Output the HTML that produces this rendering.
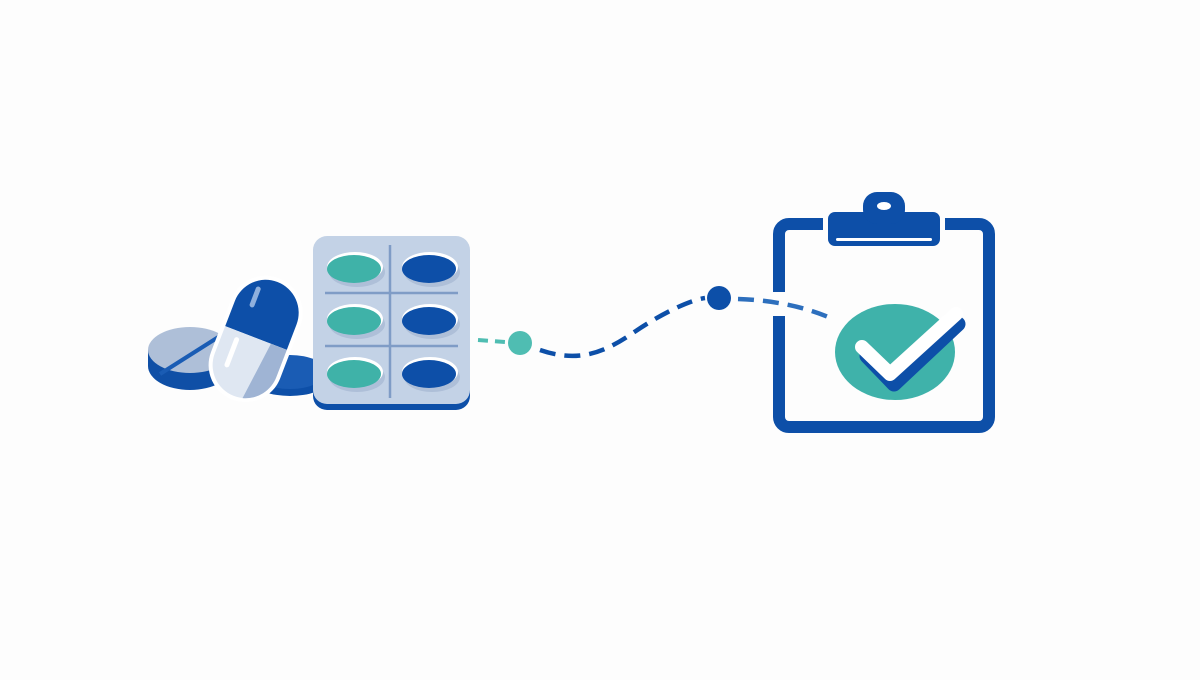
<!DOCTYPE html>
<html><head><style>body{margin:0;background:#fdfdfd}</style></head><body>
<svg width="1200" height="675" viewBox="0 0 1200 675" xmlns="http://www.w3.org/2000/svg">
<rect width="1200" height="675" fill="#fdfdfd"/>
<!-- back blue pill -->
<ellipse cx="290" cy="382" rx="36" ry="14" fill="#0d4fa8"/>
<ellipse cx="290" cy="372" rx="36" ry="17" fill="#1a5cb4"/>
<!-- tablet -->
<ellipse cx="190" cy="366" rx="42" ry="24" fill="#0f4fa6"/>
<rect x="148" y="350" width="84" height="16" fill="#0f4fa6"/>
<ellipse cx="190" cy="350" rx="42" ry="23" fill="#aebfd8"/>
<line x1="160" y1="374" x2="220" y2="336" stroke="#1a5cb4" stroke-width="4"/>
<!-- capsule -->
<g transform="rotate(21 256 338)">
<rect x="219" y="274" width="74" height="130" rx="37" fill="#fff"/>
<path d="M223 338 V311 a33 33 0 0 1 66 0 V338 Z" fill="#0d4fa8"/>
<path d="M223 338 H289 V367 a33 33 0 0 1 -66 0 Z" fill="#dfe7f2"/>
<path d="M272 338 H289 V367 a33 33 0 0 1 -24 32 Z" fill="#9fb4d4"/>
<rect x="238" y="289" width="5" height="22" rx="2.5" fill="#8fb0dd"/>
<rect x="236" y="344" width="5" height="32" rx="2.5" fill="#fff"/>
</g>
<!-- blister -->
<rect x="313" y="240" width="157" height="170" rx="14" fill="#0d4fa8"/>
<rect x="313" y="236" width="157" height="168" rx="14" fill="#c3d2e6"/>
<line x1="390" y1="245" x2="390" y2="398" stroke="#7f9cc6" stroke-width="2.5"/>
<line x1="325" y1="293" x2="458" y2="293" stroke="#7f9cc6" stroke-width="2.5"/>
<line x1="325" y1="346" x2="458" y2="346" stroke="#7f9cc6" stroke-width="2.5"/>
<g>
<ellipse cx="357" cy="272" rx="28" ry="15" fill="#aebfd8"/>
<ellipse cx="355" cy="267" rx="28" ry="15" fill="#fff"/>
<ellipse cx="354" cy="269" rx="27" ry="14" fill="#3fb2a8"/>
<ellipse cx="432" cy="272" rx="28" ry="15" fill="#aebfd8"/>
<ellipse cx="430" cy="267" rx="28" ry="15" fill="#fff"/>
<ellipse cx="429" cy="269" rx="27" ry="14" fill="#0d4fa8"/>
<ellipse cx="357" cy="324" rx="28" ry="15" fill="#aebfd8"/>
<ellipse cx="355" cy="319" rx="28" ry="15" fill="#fff"/>
<ellipse cx="354" cy="321" rx="27" ry="14" fill="#3fb2a8"/>
<ellipse cx="432" cy="324" rx="28" ry="15" fill="#aebfd8"/>
<ellipse cx="430" cy="319" rx="28" ry="15" fill="#fff"/>
<ellipse cx="429" cy="321" rx="27" ry="14" fill="#0d4fa8"/>
<ellipse cx="357" cy="377" rx="28" ry="15" fill="#aebfd8"/>
<ellipse cx="355" cy="372" rx="28" ry="15" fill="#fff"/>
<ellipse cx="354" cy="374" rx="27" ry="14" fill="#3fb2a8"/>
<ellipse cx="432" cy="377" rx="28" ry="15" fill="#aebfd8"/>
<ellipse cx="430" cy="372" rx="28" ry="15" fill="#fff"/>
<ellipse cx="429" cy="374" rx="27" ry="14" fill="#0d4fa8"/>
</g>
<!-- connector -->
<path d="M478 340 L505 342" stroke="#4fbdb2" stroke-width="4" stroke-dasharray="10 7" fill="none"/>
<circle cx="520" cy="343" r="12" fill="#4fbdb2"/>
<path d="M540 350 C575 362 600 355 630 335 C660 314 690 300 705 298" stroke="#0d4fa8" stroke-width="4.5" stroke-dasharray="16 9" fill="none"/>
<circle cx="719" cy="298" r="12" fill="#0d4fa8"/>
<!-- clipboard -->
<rect x="779" y="224" width="210" height="203" rx="10" fill="none" stroke="#0d4fa8" stroke-width="12"/>
<rect x="770" y="292" width="16" height="24" fill="#fdfdfd"/>
<path d="M738 299 C770 300 805 306 835 320" stroke="#2d6fbd" stroke-width="4.5" stroke-dasharray="16 9" fill="none"/>
<rect x="823" y="210" width="122" height="38" rx="8" fill="#fdfdfd"/>
<rect x="828" y="212" width="112" height="34" rx="7" fill="#0d4fa8"/>
<rect x="863" y="192" width="42" height="32" rx="14" fill="#0d4fa8"/>
<ellipse cx="884" cy="206" rx="7" ry="4" fill="#fff"/>
<rect x="836" y="238" width="96" height="3" rx="1.5" fill="#fff"/>
<!-- check -->
<ellipse cx="895" cy="352" rx="60" ry="48" fill="#3fb2aa"/>
<path d="M865 350 L892 378 L956 318" stroke="#0d4fa8" stroke-width="15" stroke-linecap="round" stroke-linejoin="round" fill="none" transform="translate(2,6)"/>
<path d="M862 347 L890 374 L956 314" stroke="#fff" stroke-width="14" stroke-linecap="round" stroke-linejoin="round" fill="none"/>
</svg>
</body></html>
